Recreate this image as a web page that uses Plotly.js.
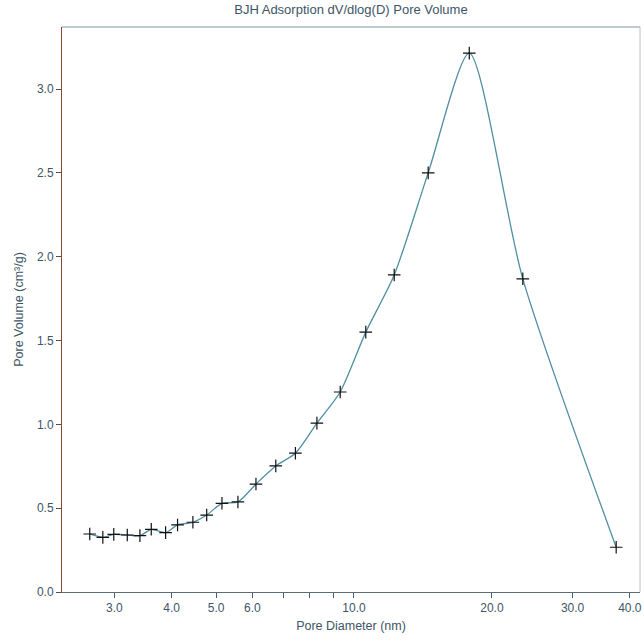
<!DOCTYPE html>
<html>
<head>
<meta charset="utf-8">
<script src="https://cdn.plot.ly/plotly-3.0.1.min.js"></script>
<style>html,body{margin:0;padding:0;background:#fff;}#chart{width:644px;height:640px;}</style>
</head>
<body>
<div id="chart"></div>
<script>
// Pore diameter (nm)
var poreDiameter = [2.65, 2.83, 2.99, 3.20, 3.41, 3.61, 3.88, 4.12, 4.45, 4.77, 5.15, 5.58, 6.11, 6.75, 7.45, 8.30, 9.33, 10.61, 12.24, 14.52, 17.85, 23.36, 37.35];
// dV/dlog(D) pore volume (cm³/g)
var poreVolume = [0.346, 0.326, 0.344, 0.340, 0.336, 0.374, 0.354, 0.400, 0.416, 0.459, 0.529, 0.537, 0.644, 0.752, 0.828, 1.007, 1.193, 1.550, 1.891, 2.500, 3.214, 1.868, 0.267];

var xTickVals = [3, 4, 5, 6, 7, 8, 9, 10, 20, 30, 40];
var xTickText = ["3.0", "4.0", "5.0", "6.0", "", "", "", "10.0", "20.0", "30.0", "40.0"];
var yTickVals = [0, 0.5, 1.0, 1.5, 2.0, 2.5, 3.0];
var yTickText = ["0.0", "0.5", "1.0", "1.5", "2.0", "2.5", "3.0"];

var textColor = "#3d5566";
var fontFam = "Liberation Sans, Arial, sans-serif";

var trace = {
  x: poreDiameter,
  y: poreVolume,
  type: "scatter",
  mode: "lines+markers",
  line: {color: "#4f8ea3", width: 1.3, shape: "spline", smoothing: 0.7},
  marker: {symbol: "cross-thin-open", size: 9, color: "#111", line: {color: "#111", width: 1.2}},
  hoverinfo: "x+y"
};

var layout = {
  width: 644,
  height: 640,
  margin: {l: 62, r: 4, t: 27, b: 48},
  paper_bgcolor: "#fff",
  plot_bgcolor: "#fff",
  showlegend: false,
  title: {
    text: "BJH Adsorption dV/dlog(D) Pore Volume",
    font: {family: fontFam, size: 13, color: textColor},
    x: 0.545, xanchor: "center", y: 0.992, yanchor: "top"
  },
  xaxis: {
    type: "log",
    range: [Math.log10(2.305), Math.log10(42.1)],
    tickvals: xTickVals,
    ticktext: xTickText,
    ticks: "outside",
    ticklen: 5,
    tickcolor: "#4a5e6a",
    showgrid: false,
    zeroline: false,
    showline: true,
    linecolor: "#5a6e78",
    linewidth: 1,
    tickfont: {family: fontFam, size: 12, color: textColor},
    title: {text: "Pore Diameter (nm)", font: {family: fontFam, size: 12.5, color: textColor}, standoff: 6}
  },
  yaxis: {
    range: [0, 3.37],
    tickvals: yTickVals,
    ticktext: yTickText,
    ticks: "outside",
    ticklen: 5,
    tickcolor: "#5a4a40",
    showgrid: false,
    zeroline: false,
    showline: true,
    linecolor: "#8a4a30",
    linewidth: 1,
    tickfont: {family: fontFam, size: 12, color: textColor},
    title: {text: "Pore Volume (cm³/g)", font: {family: fontFam, size: 12.5, color: textColor}, standoff: 10}
  },
  shapes: [
    {type: "line", xref: "paper", yref: "paper", x0: 0, x1: 1, y0: 1, y1: 1, line: {color: "#7f97a3", width: 1}},
    {type: "line", xref: "paper", yref: "paper", x0: 1, x1: 1, y0: 0, y1: 1, line: {color: "#b8c0c4", width: 1}}
  ]
};

Plotly.newPlot("chart", [trace], layout, {staticPlot: true, displayModeBar: false});
</script>
</body>
</html>
